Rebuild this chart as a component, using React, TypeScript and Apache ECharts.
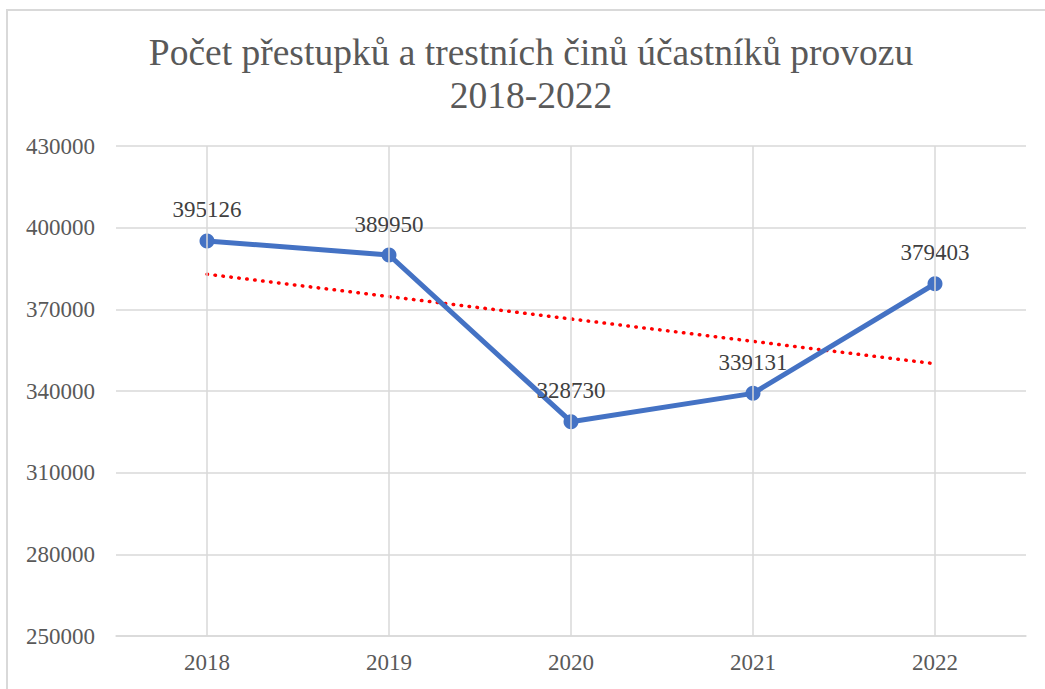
import React, { useEffect, useRef } from "react";
import * as echarts from "echarts";

const years = ["2018", "2019", "2020", "2021", "2022"];
const offences = [395126, 389950, 328730, 339131, 379403];
const trend = [382921, 374695, 366468, 358242, 350015];
const titleLines = ["Počet přestupků a trestních činů účastníků provozu", "2018-2022"];

export default function App() {
  const ref = useRef<HTMLDivElement>(null);
  useEffect(() => {
    if (!ref.current) return;
    const chart = echarts.init(ref.current, undefined, { renderer: "svg" });
    const serif = "Liberation Serif";
    chart.setOption({
      animation: false,
      backgroundColor: "#ffffff",
      textStyle: { fontFamily: serif },
      graphic: [
        {
          type: "rect",
          shape: { x: 7, y: 10, width: 1100, height: 1000 },
          style: { fill: "none", stroke: "#d9d9d9", lineWidth: 2 },
          silent: true,
        },
        ...titleLines.map((t, i) => ({
          type: "text",
          x: 531,
          y: 52 + i * 43,
          silent: true,
          style: {
            text: t,
            fontFamily: serif,
            fontSize: 37.5,
            fill: "#595959",
            textAlign: "center",
            textVerticalAlign: "middle",
          },
        })),
      ],
      grid: { left: 116, right: 19, top: 146, bottom: 53, containLabel: false },
      xAxis: {
        type: "category",
        data: years,
        boundaryGap: true,
        axisLine: { show: true, lineStyle: { color: "#d9d9d9", width: 1.5 } },
        axisTick: { show: false },
        splitLine: { show: false },
        axisLabel: { fontFamily: serif, fontSize: 23, color: "#595959", margin: 15 },
      },
      yAxis: {
        type: "value",
        min: 250000,
        max: 430000,
        interval: 30000,
        axisLine: { show: false },
        axisTick: { show: false },
        splitLine: { show: true, lineStyle: { color: "#d9d9d9", width: 1.5 } },
        axisLabel: {
          fontFamily: serif,
          fontSize: 23,
          color: "#595959",
          margin: 21,
          formatter: (v: number) => String(v),
        },
      },
      series: [
        {
          name: "trend",
          type: "line",
          data: trend,
          symbol: "none",
          z: 1,
          lineStyle: { color: "#ff0000", width: 3.5, type: [0.5, 7.5], cap: "round" },
          markLine: {
            silent: true,
            symbol: "none",
            label: { show: false },
            lineStyle: { color: "#d9d9d9", width: 1.5, type: "solid" },
            data: years.map((y) => [
              { coord: [y, 430000] },
              { coord: [y, 250000] },
            ]),
          },
        },
        {
          name: "offences",
          type: "line",
          data: offences,
          symbol: "circle",
          symbolSize: 15,
          z: 3,
          itemStyle: { color: "#4472c4" },
          lineStyle: { color: "#4472c4", width: 5 },
          label: {
            show: true,
            position: "top",
            distance: 12,
            fontFamily: serif,
            fontSize: 23,
            color: "#404040",
          },
        },
      ],
    });
    return () => chart.dispose();
  }, []);
  return (
    <div
      ref={ref}
      style={{ position: "absolute", left: 0, top: 0, width: 1045, height: 689 }}
    />
  );
}
